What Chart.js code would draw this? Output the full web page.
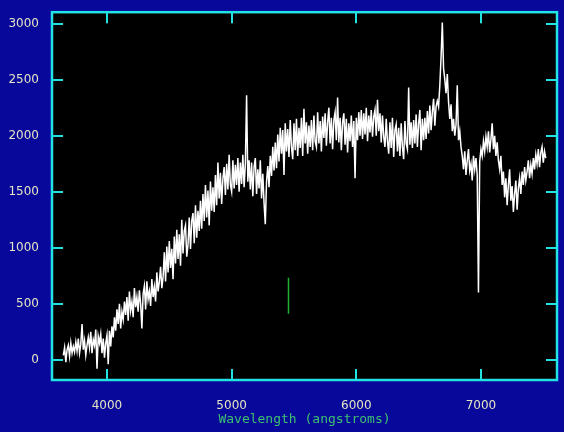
<!DOCTYPE html>
<html>
<head>
<meta charset="utf-8">
<script src="https://cdn.jsdelivr.net/npm/chart.js@4.4.0/dist/chart.umd.min.js"></script>
<style>
    html, body { margin: 0; padding: 0; background: #08089a; }
    #spec { display: block; }
</style>
</head>
<body>
<canvas id="spec" width="564" height="432"></canvas>
<script>
// spectrum sampling (angstroms): first pixel and step
var waveStart = 3650;
var waveStep = 10;

// flux, one value per 10 A, rows of 100 A
var flux = [
    40, 110, -20, 90, 130, 30, 150, 60, 120, 70,             // 3650
    160, 80, 190, 60, 140, 320, 90, 170, 40, 130,            // 3750
    200, 110, 250, 60, 180, 130, 270, -80, 210, 150,         // 3850
    230, 60, 190, 20, 150, 220, -40, 260, 120, 300,          // 3950
    200, 380, 260, 450, 320, 500, 280, 430, 360, 520,        // 4050
    400, 560, 350, 610, 440, 520, 380, 640, 470, 560,        // 4150
    430, 620, 500, 280, 590, 660, 450, 700, 540, 610,        // 4250
    480, 720, 560, 650, 520, 780, 610, 700, 830, 640,        // 4350
    740, 960, 700, 1010, 780, 1060, 820, 990, 720, 1100,     // 4450
    860, 1160, 900, 1120, 840, 1250, 950, 1150, 1200, 920,   // 4550
    1030, 1270, 990, 1240, 1310, 1040, 1380, 1090, 1330, 1150, // 4650
    1420, 1170, 1480, 1240, 1560, 1270, 1510, 1200, 1590, 1330, // 4750
    1540, 1320, 1650, 1380, 1760, 1440, 1670, 1390, 1620, 1720, // 4850
    1470, 1750, 1520, 1830, 1560, 1500, 1780, 1530, 1740, 1560, // 4950
    1800, 1500, 1760, 1570, 1830, 1540, 1750, 2360, 1590, 1780, // 5050
    1520, 1760, 1460, 1720, 1800, 1480, 1700, 1530, 1780, 1440, // 5150
    1660, 1400, 1210, 1590, 1730, 1540, 1820, 1640, 1900, 1690, // 5250
    1940, 1710, 2010, 1770, 2070, 1840, 2050, 1650, 2110, 1860, // 5350
    2060, 1810, 2140, 1900, 1790, 2110, 1870, 2150, 1820, 2070, // 5450
    1890, 2160, 1820, 2240, 1930, 2120, 1840, 2090, 1900, 2140, // 5550
    1870, 2180, 1950, 1900, 2210, 1930, 2130, 1860, 2170, 1980, // 5650
    2200, 1910, 2120, 2250, 1930, 2160, 1880, 2140, 2210, 1960, // 5750
    2340, 1940, 2160, 1870, 2120, 2200, 1920, 2150, 1850, 2110, // 5850
    1950, 2180, 1900, 2130, 1620, 2160, 1960, 2210, 2000, 2230, // 5950
    1970, 2200, 2010, 2250, 1950, 2180, 2030, 2230, 1990, 2170, // 6050
    2230, 2000, 2320, 2040, 2200, 1940, 2180, 1990, 1900, 2150, // 6150
    1950, 1840, 2120, 1890, 2160, 1810, 2050, 2100, 1860, 2070, // 6250
    1820, 2110, 1900, 1790, 2130, 1930, 1880, 2430, 1920, 2120, // 6350
    1890, 2140, 1930, 2190, 1900, 2110, 2230, 1870, 2150, 1960, // 6450
    2160, 1970, 2220, 2020, 2270, 2050, 2210, 2330, 2090, 2260, // 6550
    2310, 2260, 2450, 2700, 3010, 2600, 2500, 2380, 2550, 2300, // 6650
    2150, 2280, 2040, 2150, 2000, 2100, 2450, 1960, 2040, 1900, // 6750
    1820, 1700, 1860, 1650, 1780, 1880, 1690, 1750, 1600, 1820, // 6850
    1700, 1800, 1650, 600, 1770, 1880, 1820, 1950, 1860, 1990,  // 6950
    1900, 2040, 1850, 1970, 2110, 1880, 2000, 1820, 1940, 1780, // 7050
    1700, 1820, 1560, 1680, 1450, 1620, 1380, 1560, 1700, 1420, // 7150
    1550, 1320, 1480, 1600, 1340, 1530, 1620, 1480, 1680, 1560, // 7250
    1720, 1600, 1680, 1780, 1620, 1740, 1660, 1800, 1700, 1830, // 7350
    1750, 1880, 1720, 1850, 1900, 1760, 1860, 1800              // 7450
];

var xTicks = [4000, 5000, 6000, 7000];
var yTicks = [0, 500, 1000, 1500, 2000, 2500, 3000];

// short green marker
var markerWave = 5456;
var markerFlux = [412, 733];

var specPoints = flux.map(function (f, i) {
    return { x: waveStart + i * waveStep, y: f };
});
var markerPoints = markerFlux.map(function (f) {
    return { x: markerWave, y: f };
});

// blue page, black plot box, cyan frame with inward ticks
var frame = {
    id: 'frame',
    beforeDraw: function (chart) {
        var ctx = chart.ctx, a = chart.chartArea;
        ctx.save();
        ctx.fillStyle = '#08089a';
        ctx.fillRect(0, 0, chart.width, chart.height);
        ctx.fillStyle = '#000000';
        ctx.fillRect(a.left, a.top, a.right - a.left, a.bottom - a.top);
        ctx.restore();
    },
    afterDraw: function (chart) {
        var ctx = chart.ctx, a = chart.chartArea;
        var xs = chart.scales.x, ys = chart.scales.y;
        var len = 11;
        ctx.save();
        ctx.strokeStyle = '#22e2e2';
        ctx.lineWidth = 2;
        ctx.beginPath();
        xTicks.forEach(function (v) {
            var px = Math.round(xs.getPixelForValue(v));
            ctx.moveTo(px, a.bottom); ctx.lineTo(px, a.bottom - len);
            ctx.moveTo(px, a.top); ctx.lineTo(px, a.top + len);
        });
        yTicks.forEach(function (v) {
            var py = Math.round(ys.getPixelForValue(v));
            ctx.moveTo(a.left, py); ctx.lineTo(a.left + len, py);
            ctx.moveTo(a.right, py); ctx.lineTo(a.right - len, py);
        });
        ctx.stroke();
        ctx.lineWidth = 2.5;
        ctx.strokeRect(a.left, a.top, a.right - a.left, a.bottom - a.top);
        ctx.restore();
    }
};

function plainLabel(v) {
    return String(v);
}

new Chart(document.getElementById('spec'), {
    type: 'line',
    data: {
        datasets: [{
            data: specPoints,
            borderColor: '#ffffff',
            borderWidth: 1.5,
            pointRadius: 0,
            tension: 0,
            fill: false
        }, {
            data: markerPoints,
            borderColor: '#22b030',
            borderWidth: 1.5,
            pointRadius: 0,
            fill: false
        }]
    },
    options: {
        responsive: false,
        animation: false,
        layout: { padding: { left: 0, right: 7, top: 3, bottom: 0 } },
        plugins: {
            legend: { display: false },
            tooltip: { enabled: false }
        },
        scales: {
            x: {
                type: 'linear',
                min: 3559,
                max: 7610,
                afterBuildTicks: function (s) {
                    s.ticks = xTicks.map(function (v) { return { value: v }; });
                },
                afterFit: function (s) { s.height = 52; },
                grid: { display: false },
                border: { display: false },
                ticks: {
                    color: '#e4e4c4',
                    font: { family: 'DejaVu Sans', size: 12 },
                    padding: 11,
                    maxRotation: 0,
                    autoSkip: false,
                    callback: plainLabel
                },
                title: {
                    display: true,
                    text: 'Wavelength (angstroms)',
                    color: '#3cc070',
                    font: { family: 'DejaVu Sans Mono', size: 13 },
                    padding: { top: 0, bottom: 5 }
                }
            },
            y: {
                min: -180,
                max: 3102,
                afterBuildTicks: function (s) {
                    s.ticks = yTicks.map(function (v) { return { value: v }; });
                },
                afterFit: function (s) { s.width = 52; },
                grid: { display: false },
                border: { display: false },
                ticks: {
                    color: '#e4e4c4',
                    font: { family: 'DejaVu Sans', size: 12 },
                    padding: 5,
                    callback: plainLabel
                }
            }
        }
    },
    plugins: [frame]
});
</script>
</body>
</html>
